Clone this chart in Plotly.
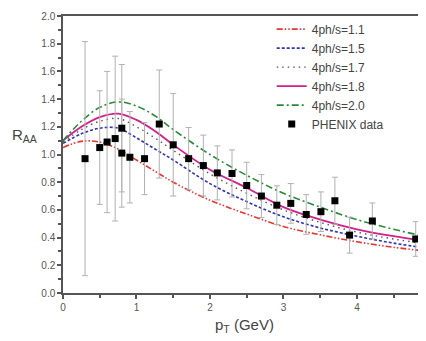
import plotly.graph_objects as go

# Theory curves (R_AA vs pT)
pt_curve = [0.0, 0.25, 0.5, 0.75, 1.0, 1.25, 1.5, 2.0, 2.5, 3.0, 3.5, 4.0, 4.5, 5.0]
raa_11 = [1.05, 1.095, 1.09, 1.04, 0.96, 0.88, 0.80, 0.67, 0.57, 0.48, 0.42, 0.37, 0.33, 0.30]
raa_15 = [1.08, 1.15, 1.19, 1.19, 1.12, 1.04, 0.96, 0.79, 0.66, 0.55, 0.47, 0.41, 0.36, 0.32]
raa_17 = [1.09, 1.18, 1.24, 1.26, 1.20, 1.12, 1.03, 0.86, 0.72, 0.60, 0.51, 0.44, 0.39, 0.35]
raa_18 = [1.10, 1.20, 1.27, 1.295, 1.25, 1.17, 1.07, 0.89, 0.76, 0.62, 0.53, 0.46, 0.41, 0.37]
raa_20 = [1.10, 1.24, 1.34, 1.38, 1.35, 1.28, 1.18, 1.00, 0.85, 0.72, 0.62, 0.53, 0.46, 0.40]

# PHENIX data
pt_data = [0.30, 0.50, 0.60, 0.71, 0.80, 0.80, 0.91, 1.11, 1.31, 1.50, 1.71, 1.91,
           2.10, 2.30, 2.50, 2.70, 2.91, 3.10, 3.31, 3.51, 3.70, 3.90, 4.21, 4.80]
raa_data = [0.97, 1.05, 1.09, 1.115, 1.19, 1.01, 0.98, 0.97, 1.22, 1.07, 0.97, 0.92,
            0.867, 0.863, 0.776, 0.70, 0.634, 0.647, 0.567, 0.587, 0.666, 0.418, 0.52, 0.39]
raa_err = [0.845, 0.41, 0.51, 0.595, 0.46, 0.39, 0.33, 0.26, 0.39, 0.37, 0.225, 0.22,
           0.195, 0.17, 0.168, 0.155, 0.14, 0.143, 0.143, 0.143, 0.17, 0.13, 0.13, 0.125]

curve_names = ["4ph/s=1.1", "4ph/s=1.5", "4ph/s=1.7", "4ph/s=1.8", "4ph/s=2.0"]
curve_vals = [raa_11, raa_15, raa_17, raa_18, raa_20]
curve_colors = ["#e8352e", "#2f35b0", "#555555", "#d0208a", "#2a8a3a"]
curve_dash = ["6px,2px,1.5px,2px,1.5px,2px", "3px,2px", "1.5px,4px", "solid", "7px,3px,2px,3px"]
curve_width = [1.6, 1.6, 1.4, 1.8, 1.6]

fig = go.Figure()
for name, vals, col, dash, w in zip(curve_names, curve_vals, curve_colors, curve_dash, curve_width):
    fig.add_trace(go.Scatter(x=pt_curve, y=vals, mode="lines", name=name,
                             line=dict(color=col, dash=dash, width=w, shape="spline")))

fig.add_trace(go.Scatter(x=pt_data, y=raa_data, mode="markers", name="PHENIX data",
                         marker=dict(symbol="square", color="black", size=7),
                         error_y=dict(type="data", array=raa_err, color="#b0b0b0",
                                      thickness=1, width=3)))

axis_font = dict(family="Liberation Sans, Arial", size=10, color="#555555")
fig.update_layout(
    width=418, height=333,
    margin=dict(l=55, r=0, t=8, b=48, autoexpand=False),
    paper_bgcolor="white", plot_bgcolor="white",
    font=dict(family="Liberation Sans, Arial", color="#444444"),
    legend=dict(x=0.575, y=1.005, xanchor="left", yanchor="top",
                bgcolor="rgba(0,0,0,0)", font=dict(size=12, color="#444444"),
                tracegroupgap=0, itemwidth=30),
    xaxis=dict(range=[0, 4.94], tickvals=[0, 1, 2, 3, 4], ticks="outside", ticklen=4,
               tickwidth=1.5, tickcolor="#555555", showline=True, linecolor="#555555",
               linewidth=1.5, mirror=True, showgrid=False, zeroline=False,
               tickfont=axis_font,
               minor=dict(tickvals=[0.5, 1.5, 2.5, 3.5, 4.5], ticks="outside", ticklen=3,
                          tickcolor="#555555"),
               title=dict(text="p<sub>T</sub> (GeV)", font=dict(size=15, color="#444444"),
                          standoff=8)),
    yaxis=dict(range=[0, 2.0], tickvals=[0, 0.2, 0.4, 0.6, 0.8, 1.0, 1.2, 1.4, 1.6, 1.8, 2.0],
               tickformat=".1f", ticks="outside", ticklen=4, tickwidth=1.5,
               tickcolor="#555555", showline=True, linecolor="#555555", linewidth=1.5,
               showgrid=False, zeroline=False, tickfont=axis_font,
               minor=dict(dtick=0.1, ticks="outside", ticklen=3, tickcolor="#555555")),
    showlegend=True,
)
fig.add_annotation(text="R<sub>AA</sub>", xref="paper", yref="paper", x=-0.105, y=0.57,
                   xanchor="center", yanchor="middle",
                   showarrow=False, font=dict(size=15, color="#444444"))

fig.write_html("out.html")
